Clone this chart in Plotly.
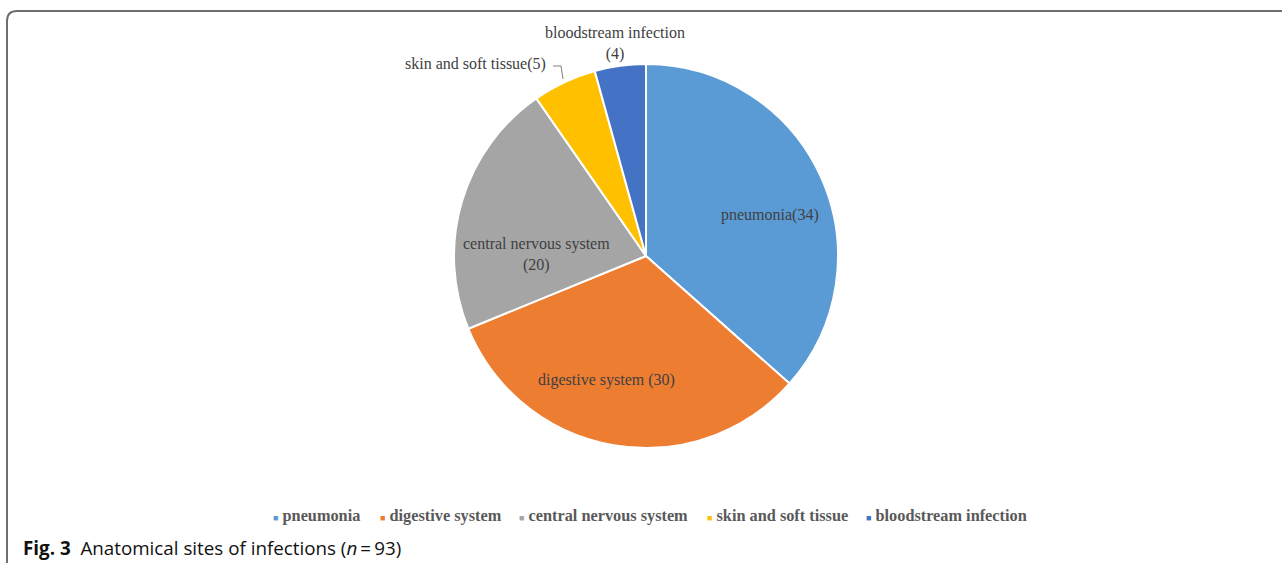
import plotly.graph_objects as go

W, H = 1282, 563

categories = ["pneumonia", "digestive system", "central nervous system",
              "skin and soft tissue", "bloodstream infection"]
counts = [34, 30, 20, 5, 4]
slice_labels = ["pneumonia(34)", "digestive system (30)", "central nervous system<br>(20)",
                "skin and soft tissue(5)", "bloodstream infection<br>(4)"]
colors = ["#5B9BD5", "#ED7D31", "#A5A5A5", "#FFC000", "#4472C4"]

# label anchor positions in pixels (text placement only)
label_pos = [(770, 215, "center"), (606, 380, "center"), (536, 254, "center"),
             (548, 64, "right"), (615, 43, "center")]
# legend item left edges in pixels
legend_x = [271, 378, 517, 705, 864]


def px(x):
    return x / W


def py(y):
    return 1 - y / H


fig = go.Figure()
fig.add_trace(go.Pie(
    labels=categories,
    values=counts,
    sort=False,
    direction="clockwise",
    rotation=0,
    marker=dict(colors=colors, line=dict(color="white", width=2)),
    textinfo="none",
    domain=dict(x=[px(454), px(838)], y=[py(448.5), py(63.5)]),
    showlegend=False,
))

annotations = []
for txt, (x, y, anc) in zip(slice_labels, label_pos):
    annotations.append(dict(
        x=px(x), y=py(y), xref="paper", yref="paper", text=txt, showarrow=False,
        xanchor=anc, yanchor="middle", align="center",
        font=dict(family="Liberation Serif", size=16, color="#404040"),
    ))

# legend drawn as text items
for cat, col, lx in zip(categories, colors, legend_x):
    annotations.append(dict(
        x=px(lx), y=py(515), xref="paper", yref="paper", showarrow=False,
        xanchor="left", yanchor="middle", align="left",
        text=f'<span style="color:{col};font-size:9px">\u25A0</span> <b>{cat}</b>',
        font=dict(family="Liberation Serif", size=16.3, color="#595959"),
    ))

annotations.append(dict(
    x=px(21), y=py(548), xref="paper", yref="paper", showarrow=False,
    xanchor="left", yanchor="middle", align="left",
    text="<b>Fig. 3</b>  Anatomical sites of infections (<i>n</i>\u2009=\u200993)",
    font=dict(family="Open Sans", size=18.8, color="#111111"),
))

shapes = [
    # frame
    dict(type="path", xref="paper", yref="paper",
         path=(f"M {px(7)},{py(563)} L {px(7)},{py(21)} "
               f"Q {px(7)},{py(11)} {px(17)},{py(11)} L {px(1282)},{py(11)}"),
         line=dict(color="#6e6e6e", width=2)),
    # leader line for small slice label
    dict(type="path", xref="paper", yref="paper",
         path=f"M {px(553)},{py(66)} L {px(561)},{py(66)} L {px(563)},{py(79)}",
         line=dict(color="#808080", width=1)),
]

fig.update_layout(
    width=W, height=H,
    margin=dict(l=0, r=0, t=0, b=0),
    paper_bgcolor="white", plot_bgcolor="white",
    annotations=annotations,
    shapes=shapes,
    showlegend=False,
)

fig.write_html("out.html")
